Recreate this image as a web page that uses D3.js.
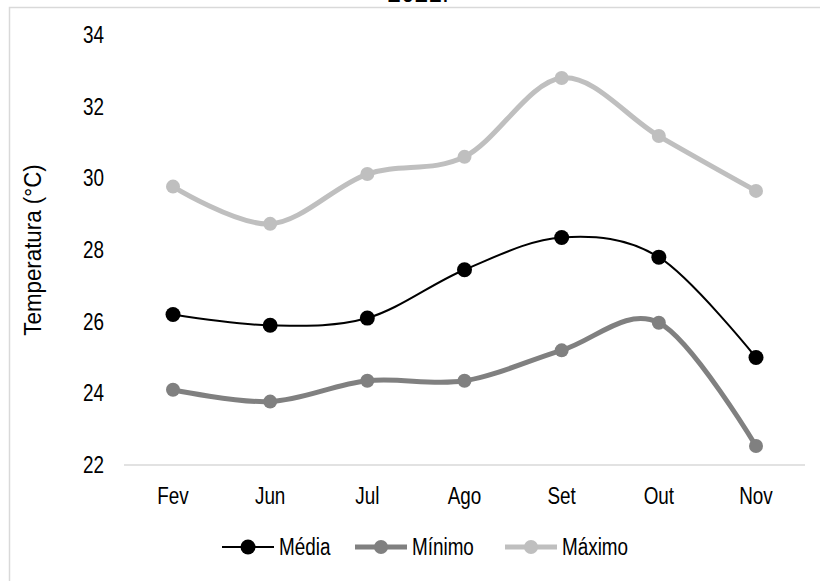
<!DOCTYPE html>
<html>
<head>
<meta charset="utf-8">
<script src="https://cdn.jsdelivr.net/npm/d3@7"></script>
<style>
  html, body { margin: 0; padding: 0; background: #fff; }
  svg text { font-family: "Liberation Sans", Arial, sans-serif; fill: #000; }
</style>
</head>
<body>
<svg id="chart" width="820" height="581"></svg>
<script>
// Monthly temperatures (°C)
const months = ["Fev", "Jun", "Jul", "Ago", "Set", "Out", "Nov"];
const media  = [26.2, 25.9, 26.1, 27.45, 28.35, 27.8, 25.0];
const minimo = [24.1, 23.77, 24.35, 24.35, 25.2, 25.97, 22.53];
const maximo = [29.77, 28.73, 30.12, 30.6, 32.8, 31.18, 29.65];
const yTicks = [22, 24, 26, 28, 30, 32, 34];
const seriesNames = ["Média", "Mínimo", "Máximo"];

const series = [
  { name: seriesNames[0], values: media,  color: "#000000", width: 2, r: 7.5 },
  { name: seriesNames[1], values: minimo, color: "#808080", width: 5, r: 7 },
  { name: seriesNames[2], values: maximo, color: "#bfbfbf", width: 5, r: 7 }
];

const FONT = 23;
// squeeze text horizontally to get a narrow face
function narrow(sel, factor = 0.82) {
  sel.each(function () {
    const w = this.getComputedTextLength();
    d3.select(this)
      .attr("textLength", w * factor)
      .attr("lengthAdjust", "spacingAndGlyphs");
  });
}

const svg = d3.select("#chart");

// chart frame
svg.append("rect")
  .attr("x", 9.5).attr("y", 7.5)
  .attr("width", 900).attr("height", 900)
  .attr("fill", "none").attr("stroke", "#d9d9d9").attr("stroke-width", 1.5);

// title, mostly above the visible area
svg.append("text")
  .attr("x", 418).attr("y", 2)
  .attr("text-anchor", "middle")
  .style("font-size", "30px")
  .text("2021.")
  .call(narrow);

const x = d3.scalePoint().domain(months).range([173, 756]);
const y = d3.scaleLinear().domain([22, 34]).range([465, 35]);

// y tick labels
svg.append("g")
  .selectAll("text")
  .data(yTicks)
  .join("text")
  .attr("x", 104)
  .attr("y", d => y(d))
  .attr("dy", "0.35em")
  .attr("text-anchor", "end")
  .style("font-size", FONT + "px")
  .text(d => d)
  .call(narrow);

// category axis baseline
svg.append("line")
  .attr("x1", 124).attr("x2", 805)
  .attr("y1", y(22)).attr("y2", y(22))
  .attr("stroke", "#d9d9d9").attr("stroke-width", 1.5);

svg.append("g")
  .selectAll("text")
  .data(months)
  .join("text")
  .attr("x", d => x(d))
  .attr("y", 496)
  .attr("dy", "0.35em")
  .attr("text-anchor", "middle")
  .style("font-size", FONT + "px")
  .text(d => d)
  .call(narrow);

// y axis title
svg.append("text")
  .attr("transform", `translate(41, ${y(28)}) rotate(-90)`)
  .attr("text-anchor", "middle")
  .style("font-size", FONT + "px")
  .text("Temperatura (°C)")
  .call(narrow, 0.97);

const line = d3.line()
  .x((d, i) => x(months[i]))
  .y(d => y(d))
  .curve(d3.curveCatmullRom.alpha(0));

// draw lighter series first so the darker ones sit on top
[...series].reverse().forEach(s => {
  const g = svg.append("g");
  g.append("path")
    .attr("d", line(s.values))
    .attr("fill", "none")
    .attr("stroke", s.color)
    .attr("stroke-width", s.width)
    .attr("stroke-linejoin", "round")
    .attr("stroke-linecap", "round");
  g.selectAll("circle")
    .data(s.values)
    .join("circle")
    .attr("cx", (d, i) => x(months[i]))
    .attr("cy", d => y(d))
    .attr("r", s.r)
    .attr("fill", s.color);
});

// legend
const legendX = [222, 355, 505];
const legend = svg.append("g");
series.forEach((s, i) => {
  const lx = legendX[i];
  const ly = 547;
  legend.append("line")
    .attr("x1", lx).attr("x2", lx + 52)
    .attr("y1", ly).attr("y2", ly)
    .attr("stroke", s.color).attr("stroke-width", s.width);
  legend.append("circle")
    .attr("cx", lx + 26).attr("cy", ly).attr("r", s.r)
    .attr("fill", s.color);
  legend.append("text")
    .attr("x", lx + 57).attr("y", ly)
    .attr("dy", "0.35em")
    .style("font-size", FONT + "px")
    .text(s.name)
    .call(narrow);
});
</script>
</body>
</html>
